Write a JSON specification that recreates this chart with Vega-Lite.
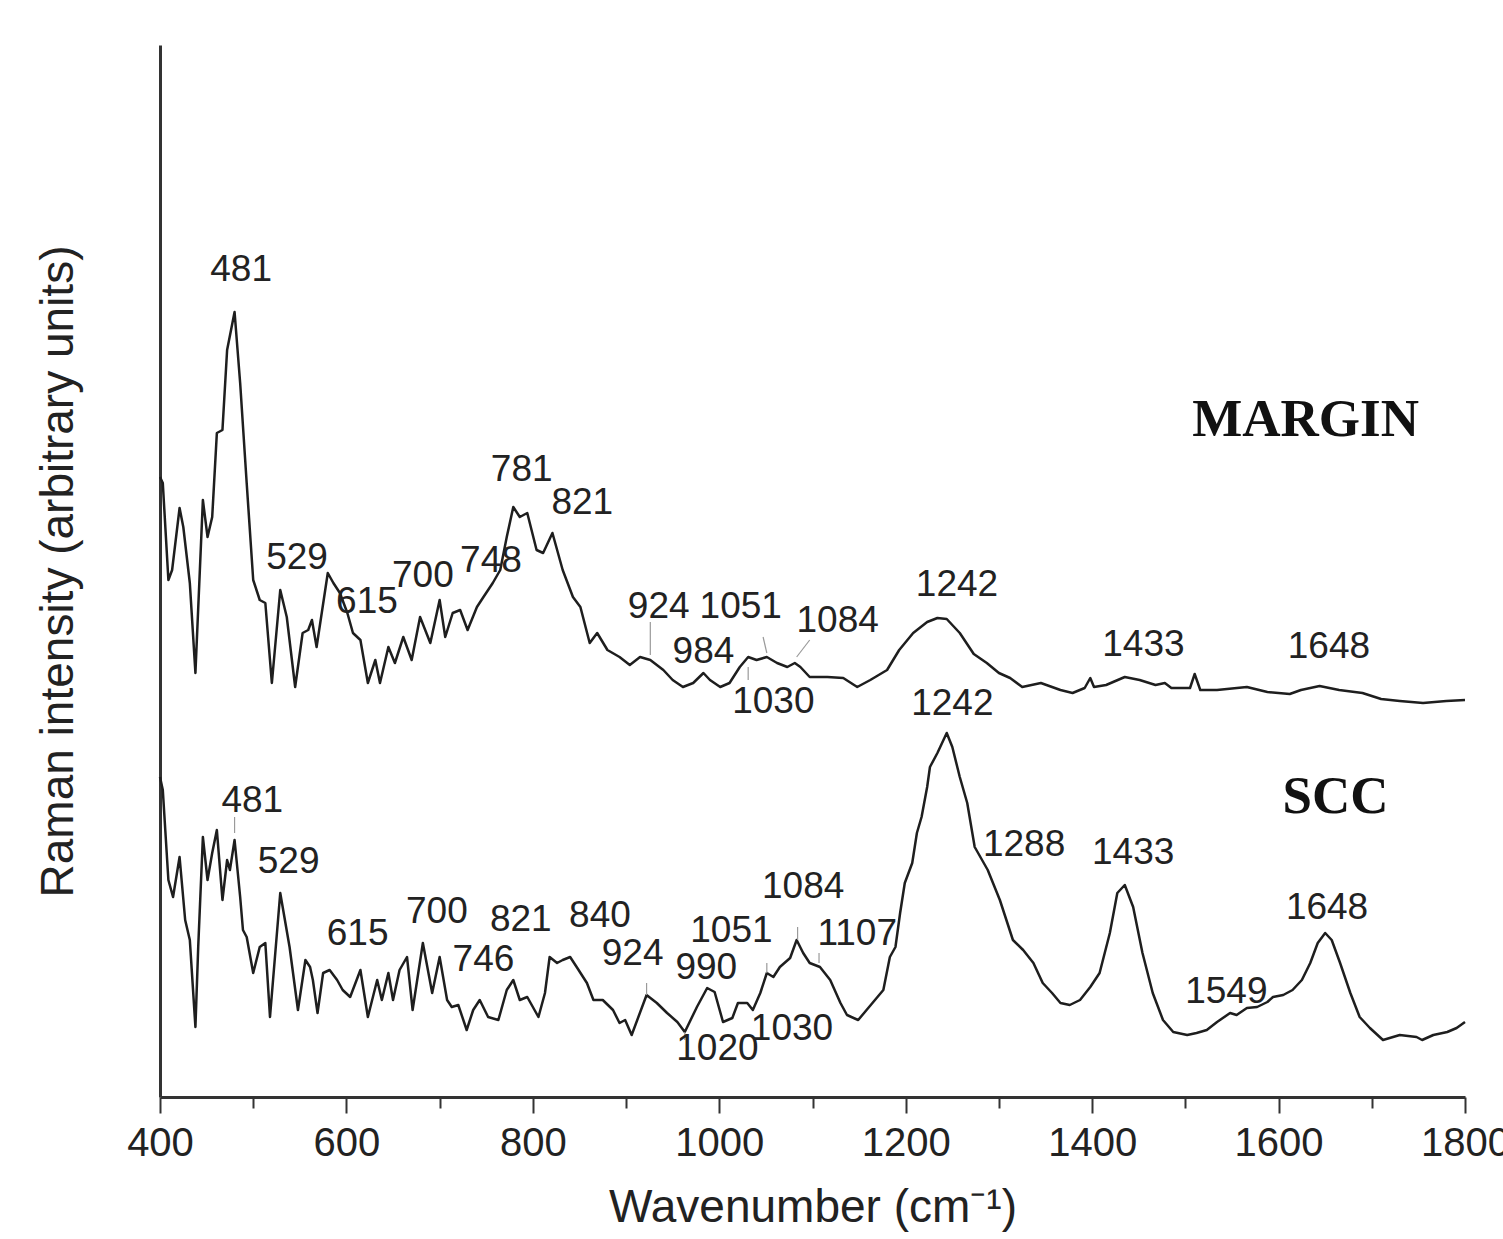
{
  "$schema": "https://vega.github.io/schema/vega-lite/v6.json",
  "width": 1305,
  "height": 1052,
  "autosize": {"type": "none"},
  "padding": {"left": 160, "top": 45, "right": 38, "bottom": 142},
  "background": "white",
  "config": {"view": {"stroke": null}},
  "datasets": {
    "spectra": [
      {"s":"MARGIN","w":400,"i":620},{"s":"MARGIN","w":403,"i":614},{"s":"MARGIN","w":409,"i":517},{"s":"MARGIN","w":413,"i":527},{"s":"MARGIN","w":421,"i":589},{"s":"MARGIN","w":425,"i":570},{"s":"MARGIN","w":432,"i":514},{"s":"MARGIN","w":438,"i":424},{"s":"MARGIN","w":446,"i":597},{"s":"MARGIN","w":451,"i":560},{"s":"MARGIN","w":456,"i":580},{"s":"MARGIN","w":461,"i":664},{"s":"MARGIN","w":467,"i":667},{"s":"MARGIN","w":472,"i":747},{"s":"MARGIN","w":480,"i":785},{"s":"MARGIN","w":486,"i":714},{"s":"MARGIN","w":493,"i":614},{"s":"MARGIN","w":500,"i":517},{"s":"MARGIN","w":507,"i":497},{"s":"MARGIN","w":513,"i":494},{"s":"MARGIN","w":520,"i":414},{"s":"MARGIN","w":529,"i":507},{"s":"MARGIN","w":536,"i":480},{"s":"MARGIN","w":545,"i":410},{"s":"MARGIN","w":553,"i":464},{"s":"MARGIN","w":559,"i":467},{"s":"MARGIN","w":563,"i":477},{"s":"MARGIN","w":568,"i":450},{"s":"MARGIN","w":574,"i":487},{"s":"MARGIN","w":580,"i":524},{"s":"MARGIN","w":586,"i":514},{"s":"MARGIN","w":593,"i":504},{"s":"MARGIN","w":601,"i":484},{"s":"MARGIN","w":607,"i":464},{"s":"MARGIN","w":615,"i":457},{"s":"MARGIN","w":623,"i":414},{"s":"MARGIN","w":631,"i":437},{"s":"MARGIN","w":636,"i":414},{"s":"MARGIN","w":645,"i":450},{"s":"MARGIN","w":652,"i":434},{"s":"MARGIN","w":661,"i":460},{"s":"MARGIN","w":670,"i":437},{"s":"MARGIN","w":679,"i":480},{"s":"MARGIN","w":690,"i":454},{"s":"MARGIN","w":700,"i":497},{"s":"MARGIN","w":706,"i":460},{"s":"MARGIN","w":714,"i":484},{"s":"MARGIN","w":722,"i":487},{"s":"MARGIN","w":730,"i":467},{"s":"MARGIN","w":740,"i":490},{"s":"MARGIN","w":747,"i":500},{"s":"MARGIN","w":757,"i":514},{"s":"MARGIN","w":765,"i":527},{"s":"MARGIN","w":772,"i":560},{"s":"MARGIN","w":779,"i":590},{"s":"MARGIN","w":786,"i":580},{"s":"MARGIN","w":794,"i":584},{"s":"MARGIN","w":804,"i":547},{"s":"MARGIN","w":811,"i":544},{"s":"MARGIN","w":821,"i":564},{"s":"MARGIN","w":832,"i":527},{"s":"MARGIN","w":843,"i":500},{"s":"MARGIN","w":851,"i":490},{"s":"MARGIN","w":861,"i":454},{"s":"MARGIN","w":869,"i":464},{"s":"MARGIN","w":880,"i":447},{"s":"MARGIN","w":893,"i":440},{"s":"MARGIN","w":904,"i":432},{"s":"MARGIN","w":915,"i":440},{"s":"MARGIN","w":926,"i":437},{"s":"MARGIN","w":940,"i":427},{"s":"MARGIN","w":950,"i":417},{"s":"MARGIN","w":961,"i":410},{"s":"MARGIN","w":972,"i":414},{"s":"MARGIN","w":983,"i":424},{"s":"MARGIN","w":990,"i":417},{"s":"MARGIN","w":1001,"i":410},{"s":"MARGIN","w":1011,"i":414},{"s":"MARGIN","w":1022,"i":430},{"s":"MARGIN","w":1031,"i":440},{"s":"MARGIN","w":1040,"i":437},{"s":"MARGIN","w":1051,"i":440},{"s":"MARGIN","w":1062,"i":434},{"s":"MARGIN","w":1073,"i":430},{"s":"MARGIN","w":1081,"i":434},{"s":"MARGIN","w":1087,"i":430},{"s":"MARGIN","w":1097,"i":420},{"s":"MARGIN","w":1116,"i":420},{"s":"MARGIN","w":1133,"i":419},{"s":"MARGIN","w":1148,"i":410},{"s":"MARGIN","w":1162,"i":417},{"s":"MARGIN","w":1180,"i":427},{"s":"MARGIN","w":1193,"i":447},{"s":"MARGIN","w":1208,"i":464},{"s":"MARGIN","w":1223,"i":475},{"s":"MARGIN","w":1234,"i":479},{"s":"MARGIN","w":1244,"i":478},{"s":"MARGIN","w":1258,"i":464},{"s":"MARGIN","w":1273,"i":443},{"s":"MARGIN","w":1287,"i":434},{"s":"MARGIN","w":1300,"i":424},{"s":"MARGIN","w":1312,"i":419},{"s":"MARGIN","w":1325,"i":410},{"s":"MARGIN","w":1345,"i":414},{"s":"MARGIN","w":1366,"i":407},{"s":"MARGIN","w":1379,"i":404},{"s":"MARGIN","w":1392,"i":409},{"s":"MARGIN","w":1398,"i":419},{"s":"MARGIN","w":1402,"i":410},{"s":"MARGIN","w":1415,"i":412},{"s":"MARGIN","w":1435,"i":420},{"s":"MARGIN","w":1451,"i":417},{"s":"MARGIN","w":1468,"i":412},{"s":"MARGIN","w":1478,"i":414},{"s":"MARGIN","w":1485,"i":409},{"s":"MARGIN","w":1505,"i":409},{"s":"MARGIN","w":1510,"i":423},{"s":"MARGIN","w":1516,"i":407},{"s":"MARGIN","w":1534,"i":407},{"s":"MARGIN","w":1566,"i":410},{"s":"MARGIN","w":1588,"i":405},{"s":"MARGIN","w":1612,"i":403},{"s":"MARGIN","w":1624,"i":407},{"s":"MARGIN","w":1644,"i":411},{"s":"MARGIN","w":1665,"i":407},{"s":"MARGIN","w":1690,"i":404},{"s":"MARGIN","w":1710,"i":398},{"s":"MARGIN","w":1730,"i":396},{"s":"MARGIN","w":1755,"i":394},{"s":"MARGIN","w":1780,"i":396},{"s":"MARGIN","w":1800,"i":397},
      {"s":"SCC","w":400,"i":320},{"s":"SCC","w":403,"i":307},{"s":"SCC","w":409,"i":217},{"s":"SCC","w":414,"i":200},{"s":"SCC","w":421,"i":240},{"s":"SCC","w":427,"i":177},{"s":"SCC","w":432,"i":157},{"s":"SCC","w":438,"i":70},{"s":"SCC","w":441,"i":150},{"s":"SCC","w":446,"i":260},{"s":"SCC","w":451,"i":217},{"s":"SCC","w":456,"i":244},{"s":"SCC","w":461,"i":267},{"s":"SCC","w":467,"i":197},{"s":"SCC","w":472,"i":237},{"s":"SCC","w":475,"i":227},{"s":"SCC","w":480,"i":257},{"s":"SCC","w":486,"i":200},{"s":"SCC","w":489,"i":167},{"s":"SCC","w":493,"i":160},{"s":"SCC","w":500,"i":124},{"s":"SCC","w":507,"i":150},{"s":"SCC","w":513,"i":154},{"s":"SCC","w":518,"i":80},{"s":"SCC","w":529,"i":204},{"s":"SCC","w":539,"i":150},{"s":"SCC","w":548,"i":87},{"s":"SCC","w":556,"i":137},{"s":"SCC","w":561,"i":130},{"s":"SCC","w":564,"i":117},{"s":"SCC","w":569,"i":84},{"s":"SCC","w":575,"i":124},{"s":"SCC","w":582,"i":127},{"s":"SCC","w":590,"i":117},{"s":"SCC","w":596,"i":107},{"s":"SCC","w":604,"i":100},{"s":"SCC","w":615,"i":127},{"s":"SCC","w":623,"i":80},{"s":"SCC","w":633,"i":117},{"s":"SCC","w":638,"i":97},{"s":"SCC","w":645,"i":124},{"s":"SCC","w":650,"i":97},{"s":"SCC","w":657,"i":127},{"s":"SCC","w":665,"i":140},{"s":"SCC","w":671,"i":87},{"s":"SCC","w":682,"i":154},{"s":"SCC","w":692,"i":104},{"s":"SCC","w":700,"i":140},{"s":"SCC","w":708,"i":97},{"s":"SCC","w":713,"i":90},{"s":"SCC","w":720,"i":92},{"s":"SCC","w":729,"i":67},{"s":"SCC","w":736,"i":87},{"s":"SCC","w":743,"i":97},{"s":"SCC","w":752,"i":80},{"s":"SCC","w":763,"i":77},{"s":"SCC","w":772,"i":107},{"s":"SCC","w":779,"i":117},{"s":"SCC","w":786,"i":97},{"s":"SCC","w":794,"i":100},{"s":"SCC","w":806,"i":80},{"s":"SCC","w":813,"i":104},{"s":"SCC","w":818,"i":140},{"s":"SCC","w":826,"i":134},{"s":"SCC","w":832,"i":137},{"s":"SCC","w":840,"i":140},{"s":"SCC","w":847,"i":130},{"s":"SCC","w":858,"i":114},{"s":"SCC","w":865,"i":97},{"s":"SCC","w":875,"i":97},{"s":"SCC","w":886,"i":87},{"s":"SCC","w":893,"i":74},{"s":"SCC","w":899,"i":77},{"s":"SCC","w":906,"i":62},{"s":"SCC","w":922,"i":102},{"s":"SCC","w":933,"i":94},{"s":"SCC","w":944,"i":84},{"s":"SCC","w":955,"i":75},{"s":"SCC","w":963,"i":65},{"s":"SCC","w":976,"i":90},{"s":"SCC","w":987,"i":109},{"s":"SCC","w":995,"i":105},{"s":"SCC","w":1004,"i":75},{"s":"SCC","w":1014,"i":79},{"s":"SCC","w":1020,"i":94},{"s":"SCC","w":1030,"i":94},{"s":"SCC","w":1036,"i":87},{"s":"SCC","w":1044,"i":104},{"s":"SCC","w":1051,"i":124},{"s":"SCC","w":1058,"i":120},{"s":"SCC","w":1065,"i":130},{"s":"SCC","w":1076,"i":139},{"s":"SCC","w":1083,"i":157},{"s":"SCC","w":1090,"i":144},{"s":"SCC","w":1097,"i":134},{"s":"SCC","w":1108,"i":130},{"s":"SCC","w":1119,"i":117},{"s":"SCC","w":1130,"i":94},{"s":"SCC","w":1137,"i":82},{"s":"SCC","w":1149,"i":77},{"s":"SCC","w":1158,"i":87},{"s":"SCC","w":1176,"i":107},{"s":"SCC","w":1183,"i":140},{"s":"SCC","w":1189,"i":150},{"s":"SCC","w":1194,"i":184},{"s":"SCC","w":1199,"i":214},{"s":"SCC","w":1207,"i":234},{"s":"SCC","w":1212,"i":264},{"s":"SCC","w":1217,"i":280},{"s":"SCC","w":1223,"i":310},{"s":"SCC","w":1226,"i":330},{"s":"SCC","w":1234,"i":344},{"s":"SCC","w":1244,"i":364},{"s":"SCC","w":1250,"i":350},{"s":"SCC","w":1258,"i":320},{"s":"SCC","w":1266,"i":294},{"s":"SCC","w":1274,"i":250},{"s":"SCC","w":1288,"i":227},{"s":"SCC","w":1301,"i":197},{"s":"SCC","w":1315,"i":157},{"s":"SCC","w":1326,"i":147},{"s":"SCC","w":1337,"i":134},{"s":"SCC","w":1347,"i":114},{"s":"SCC","w":1357,"i":104},{"s":"SCC","w":1366,"i":94},{"s":"SCC","w":1376,"i":92},{"s":"SCC","w":1387,"i":97},{"s":"SCC","w":1398,"i":110},{"s":"SCC","w":1408,"i":124},{"s":"SCC","w":1419,"i":164},{"s":"SCC","w":1427,"i":204},{"s":"SCC","w":1435,"i":212},{"s":"SCC","w":1444,"i":190},{"s":"SCC","w":1454,"i":144},{"s":"SCC","w":1465,"i":104},{"s":"SCC","w":1476,"i":77},{"s":"SCC","w":1487,"i":65},{"s":"SCC","w":1502,"i":62},{"s":"SCC","w":1512,"i":64},{"s":"SCC","w":1523,"i":67},{"s":"SCC","w":1534,"i":75},{"s":"SCC","w":1548,"i":84},{"s":"SCC","w":1555,"i":82},{"s":"SCC","w":1566,"i":89},{"s":"SCC","w":1577,"i":90},{"s":"SCC","w":1588,"i":95},{"s":"SCC","w":1594,"i":100},{"s":"SCC","w":1605,"i":102},{"s":"SCC","w":1615,"i":107},{"s":"SCC","w":1625,"i":117},{"s":"SCC","w":1634,"i":134},{"s":"SCC","w":1642,"i":154},{"s":"SCC","w":1650,"i":164},{"s":"SCC","w":1657,"i":157},{"s":"SCC","w":1666,"i":134},{"s":"SCC","w":1677,"i":104},{"s":"SCC","w":1687,"i":80},{"s":"SCC","w":1698,"i":69},{"s":"SCC","w":1712,"i":57},{"s":"SCC","w":1730,"i":62},{"s":"SCC","w":1748,"i":60},{"s":"SCC","w":1754,"i":57},{"s":"SCC","w":1766,"i":62},{"s":"SCC","w":1781,"i":65},{"s":"SCC","w":1791,"i":69},{"s":"SCC","w":1800,"i":75}
    ],
    "peaks": [
      {"w":487,"i":827,"label":"481"},{"w":547,"i":539,"label":"529"},{"w":622,"i":495,"label":"615"},{"w":682,"i":521,"label":"700"},{"w":755,"i":536,"label":"748"},{"w":788,"i":627,"label":"781"},{"w":853,"i":594,"label":"821"},{"w":935,"i":490,"label":"924"},{"w":1023,"i":490,"label":"1051"},{"w":983,"i":445,"label":"984"},{"w":1127,"i":476,"label":"1084"},{"w":1058,"i":395,"label":"1030"},{"w":1255,"i":512,"label":"1242"},{"w":1455,"i":452,"label":"1433"},{"w":1654,"i":450,"label":"1648"},
      {"w":1250,"i":393,"label":"1242"},{"w":499,"i":296,"label":"481"},{"w":538,"i":235,"label":"529"},{"w":612,"i":163,"label":"615"},{"w":697,"i":185,"label":"700"},{"w":747,"i":137,"label":"746"},{"w":787,"i":177,"label":"821"},{"w":872,"i":181,"label":"840"},{"w":907,"i":143,"label":"924"},{"w":1013,"i":166,"label":"1051"},{"w":986,"i":129,"label":"990"},{"w":1090,"i":210,"label":"1084"},{"w":1148,"i":163,"label":"1107"},{"w":998,"i":48,"label":"1020"},{"w":1078,"i":68,"label":"1030"},{"w":1327,"i":252,"label":"1288"},{"w":1444,"i":244,"label":"1433"},{"w":1544,"i":105,"label":"1549"},{"w":1652,"i":189,"label":"1648"}
    ],
    "leaders": [
      {"w":926,"i":475,"w2":926,"i2":442},{"w":1047,"i":460,"w2":1051,"i2":444},{"w":1097,"i":457,"w2":1083,"i2":440},{"w":1031,"i":430,"w2":1031,"i2":417},
      {"w":480,"i":280,"w2":480,"i2":264},{"w":922,"i":114,"w2":922,"i2":102},{"w":1051,"i":134,"w2":1051,"i2":124},{"w":1084,"i":170,"w2":1084,"i2":157},{"w":1107,"i":144,"w2":1107,"i2":134},{"w":963,"i":65,"w2":963,"i2":57}
    ],
    "samples": [
      {"w":1629,"i":677,"name":"MARGIN"},{"w":1661,"i":300,"name":"SCC"}
    ]
  },
  "resolve": {"axis": {"x": "independent"}},
  "layer": [
    {
      "data": {"name": "spectra"},
      "mark": {"type": "line", "color": "#1e1e1e", "strokeWidth": 2.5, "strokeJoin": "round"},
      "encoding": {
        "x": {"field": "w", "type": "quantitative", "scale": {"domain": [400, 1800], "nice": false, "zero": false},
          "axis": {"orient": "bottom", "values": [400, 600, 800, 1000, 1200, 1400, 1600, 1800], "format": "d", "title": "Wavenumber (cm⁻¹)", "grid": false,
            "labelFont": "Liberation Sans", "labelFontSize": 40, "labelColor": "#222", "labelPadding": 10, "labelFlush": false, "labelOverlap": false, "labelBound": false,
            "tickSize": 16, "tickWidth": 2, "tickColor": "#333", "domainWidth": 3, "domainColor": "#333",
            "titleFont": "Liberation Sans", "titleFontSize": 46, "titleFontWeight": "normal", "titleColor": "#222", "titlePadding": 22}},
        "y": {"field": "i", "type": "quantitative", "scale": {"domain": [0, 1052], "nice": false, "zero": false},
          "axis": {"title": "Raman intensity (arbitrary units)", "labels": false, "ticks": false, "grid": false,
            "domainWidth": 3, "domainColor": "#333",
            "titleFont": "Liberation Sans", "titleFontSize": 46, "titleFontWeight": "normal", "titleColor": "#222", "titlePadding": 78}},
        "detail": {"field": "s", "type": "nominal"}
      }
    },
    {
      "data": {"name": "leaders"},
      "mark": {"type": "rule", "color": "#9a9a9a", "strokeWidth": 1.2},
      "encoding": {
        "x": {"field": "w", "type": "quantitative", "axis": {"orient": "bottom", "values": [500, 700, 900, 1100, 1300, 1500, 1700], "labels": false, "title": null, "domain": false, "grid": false, "tickSize": 11, "tickWidth": 2, "tickColor": "#333"}},
        "y": {"field": "i", "type": "quantitative"},
        "x2": {"field": "w2"},
        "y2": {"field": "i2"}
      }
    },
    {
      "data": {"name": "peaks"},
      "mark": {"type": "text", "font": "Liberation Sans", "fontSize": 37, "color": "#222", "align": "center", "baseline": "middle"},
      "encoding": {
        "x": {"field": "w", "type": "quantitative", "axis": null},
        "y": {"field": "i", "type": "quantitative"},
        "text": {"field": "label", "type": "nominal"}
      }
    },
    {
      "data": {"name": "samples"},
      "mark": {"type": "text", "font": "Liberation Serif", "fontSize": 53, "fontWeight": "bold", "color": "#111", "align": "center", "baseline": "middle"},
      "encoding": {
        "x": {"field": "w", "type": "quantitative", "axis": null},
        "y": {"field": "i", "type": "quantitative"},
        "text": {"field": "name", "type": "nominal"}
      }
    }
  ]
}
